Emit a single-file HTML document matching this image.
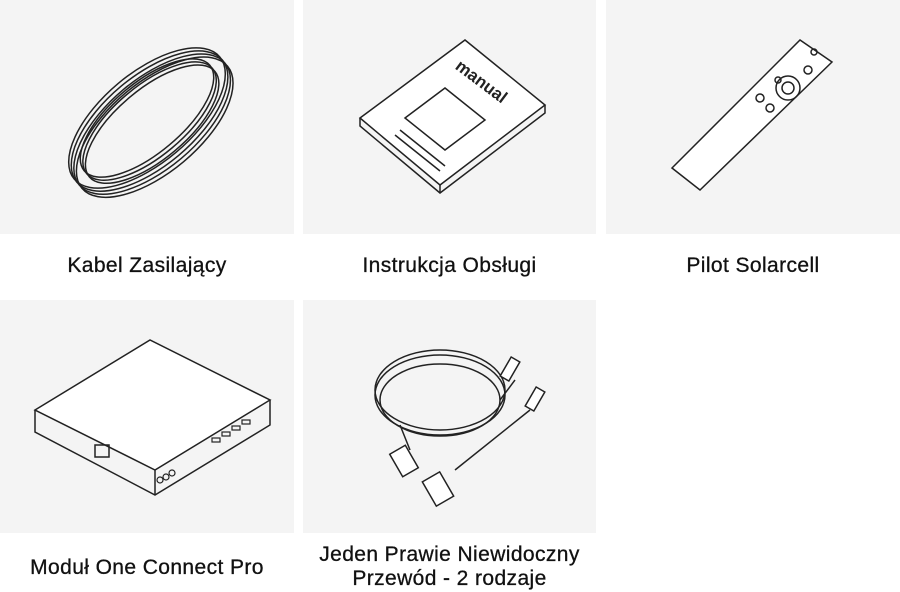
<!DOCTYPE html>
<html><head><meta charset="utf-8"><style>
body{margin:0;width:900px;height:592px;background:#fff;position:relative;overflow:hidden;font-family:"Liberation Sans",sans-serif;}
.p{position:absolute;background:#f4f4f4;}
.l{position:absolute;text-align:center;font-size:21px;color:#111;line-height:24px;letter-spacing:0.4px;-webkit-text-stroke:0.3px #111;}
svg{position:absolute;left:0;top:0}
</style></head><body>
<div class="p" style="left:0;top:0;width:294px;height:234px"></div>
<div class="p" style="left:303px;top:0;width:293px;height:234px"></div>
<div class="p" style="left:606px;top:0;width:294px;height:234px"></div>
<div class="p" style="left:0;top:300px;width:294px;height:233px"></div>
<div class="p" style="left:303px;top:300px;width:293px;height:233px"></div>
<div class="l" style="left:0;width:294px;top:254px">Kabel Zasilający</div>
<div class="l" style="left:303px;width:293px;top:254px">Instrukcja Obsługi</div>
<div class="l" style="left:606px;width:294px;top:254px">Pilot Solarcell</div>
<div class="l" style="left:0;width:294px;top:556px">Moduł One Connect Pro</div>
<div class="l" style="left:303px;width:293px;top:543px">Jeden Prawie Niewidoczny<br>Przewód - 2 rodzaje</div>
<svg width="900" height="592" fill="none" stroke="#222" stroke-width="1.5">
<!-- cable -->
<g transform="rotate(-40 147 118)">
<ellipse cx="147" cy="118" rx="95" ry="45"/>
<ellipse cx="147" cy="122" rx="95" ry="45"/>
<ellipse cx="147" cy="126" rx="95" ry="45"/>
<ellipse cx="147" cy="130" rx="95" ry="45"/>
<ellipse cx="147" cy="118" rx="82" ry="35"/>
<ellipse cx="147" cy="122" rx="82" ry="35"/>
<ellipse cx="147" cy="126" rx="82" ry="35"/>
</g>
<!-- manual -->
<polygon points="360,118 465,40 545,105 440,185" fill="#fff"/>
<polyline points="360,118 360,126 440,193 545,113 545,105"/>
<line x1="440" y1="185" x2="440" y2="193"/>
<text x="478" y="86" transform="rotate(37 478 86)" font-family="Liberation Sans" font-weight="bold" font-size="17" fill="#222" stroke="none" text-anchor="middle">manual</text>
<polygon points="405,118 445,88 485,120 445,150" />
<line x1="400" y1="130" x2="445" y2="166"/><line x1="395" y1="135" x2="440" y2="171"/>
<!-- remote -->
<polygon points="672,168 800,40 832,62 700,190" fill="#fff"/>
<circle cx="788" cy="88" r="12"/><circle cx="788" cy="88" r="6"/>
<circle cx="770" cy="108" r="4"/><circle cx="760" cy="98" r="4"/><circle cx="808" cy="70" r="4"/>
<circle cx="814" cy="52" r="3"/><circle cx="778" cy="80" r="3"/>
<!-- one connect -->
<polygon points="35,410 150,340 270,400 155,470" fill="#fff"/>
<polyline points="35,410 35,432 155,495 270,425 270,400"/>
<line x1="155" y1="470" x2="155" y2="495"/>
<rect x="95" y="445" width="14" height="12"/>
<g stroke-width="1.2"><rect x="212" y="438" width="8" height="4"/><rect x="222" y="432" width="8" height="4"/><rect x="232" y="426" width="8" height="4"/><rect x="242" y="420" width="8" height="4"/>
<circle cx="160" cy="480" r="3"/><circle cx="166" cy="477" r="3"/><circle cx="172" cy="473" r="3"/></g>
<!-- hdmi cables -->
<ellipse cx="440" cy="390" rx="65" ry="40"/><ellipse cx="440" cy="395" rx="65" ry="40"/><ellipse cx="440" cy="400" rx="60" ry="36"/>
<path d="M400,425 L410,450"/><rect x="395" y="448" width="18" height="26" transform="rotate(-30 404 461)" fill="#fff"/>
<path d="M500,400 L515,380"/><rect x="505" y="358" width="10" height="22" transform="rotate(30 510 369)" fill="#fff"/>
<path d="M455,470 L530,410"/><rect x="428" y="475" width="20" height="28" transform="rotate(-30 438 489)" fill="#fff"/>
<rect x="530" y="388" width="10" height="22" transform="rotate(30 535 399)" fill="#fff"/>
</svg>
</body></html>
